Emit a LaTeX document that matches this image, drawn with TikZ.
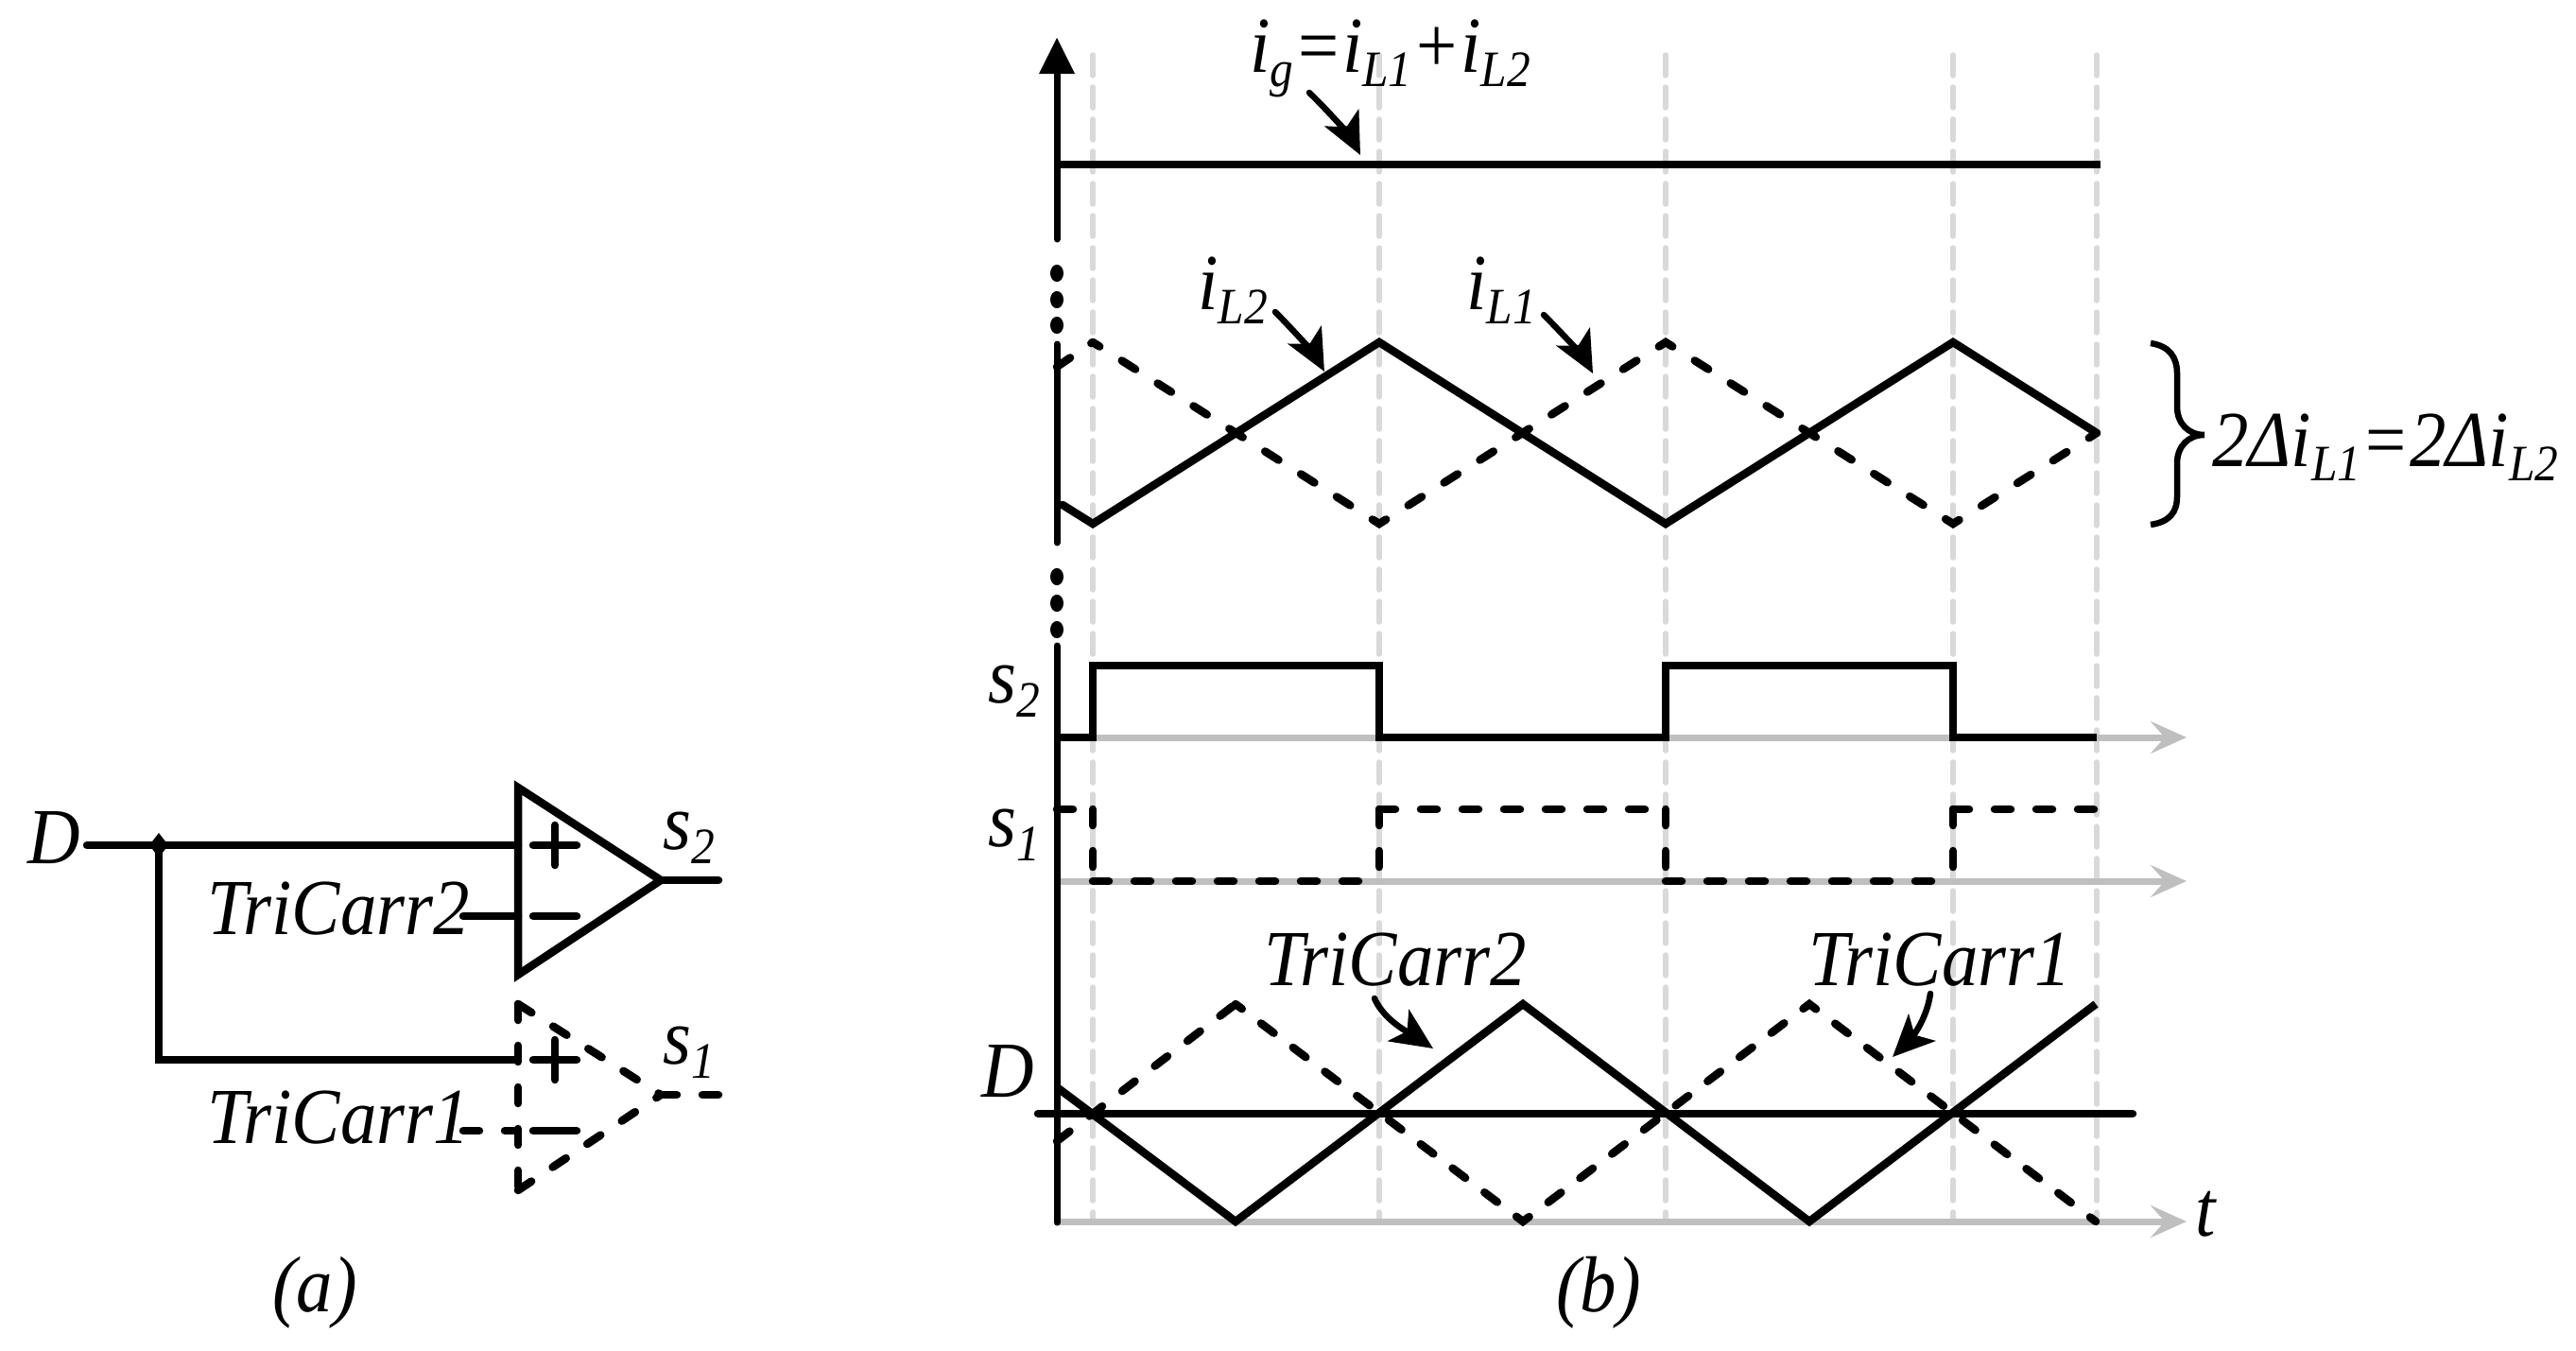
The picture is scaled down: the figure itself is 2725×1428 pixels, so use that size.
\documentclass[tikz,border=0pt]{standalone}
\usepackage{fontspec}
\setmainfont{Liberation Serif}[ItalicFeatures={FakeStretch=0.915}]
\usetikzlibrary{arrows.meta}
\newcommand{\lsub}[1]{\raisebox{-15pt}{\fontsize{54}{55}\selectfont #1}}
\definecolor{guidegray}{HTML}{D9D9D9}
\definecolor{axisgray}{HTML}{BFBFBF}
\tikzset{
  lbl/.style={inner sep=0pt,anchor=base west,font=\fontsize{84}{86}\selectfont\itshape},
  wave/.style={line width=8.5pt,black,line join=miter},
  axisline/.style={line width=7pt,black,line cap=round},
  dashwave/.style={wave,line cap=round,dash pattern=on 17pt off 27pt},
  guide/.style={line width=5.5pt,color=guidegray,line cap=round,dash pattern=on 22pt off 12pt},
  grayaxis/.style={line width=7pt,color=axisgray,-{Stealth[length=38pt,width=34pt,inset=15pt]}},
  callout/.style={line width=6.5pt,black,line cap=round,-{Stealth[length=44pt,width=40pt,inset=11pt]}},
  signline/.style={line width=8.5pt,black,line cap=round},
  dotmark/.style={circle,fill=black,inner sep=0pt,minimum size=14pt,yscale=1.3}
}
\begin{document}
\begin{tikzpicture}[x=1pt,y=-1pt]
\useasboundingbox (0,0) rectangle (2725,1428);
\fill[white] (0,0) rectangle (2725,1428);

% ---------- panel (a) ----------
\coordinate (dstart) at (92,894);
\coordinate (junc) at (168,894);
\coordinate (junc2) at (168,1121);
\coordinate (p2) at (548,894);
\coordinate (p1) at (548,1121);
\coordinate (m2) at (548,969);
\coordinate (m2s) at (490,969);
\coordinate (m1) at (548,1196);
\coordinate (m1s) at (490,1196);
\coordinate (t2a) at (548,833);
\coordinate (t2b) at (548,1031);
\coordinate (t2c) at (699,931);
\coordinate (t1a) at (548,1062);
\coordinate (t1b) at (548,1259);
\coordinate (t1c) at (699,1158);
\coordinate (o2) at (760,931);
\coordinate (o1) at (760,1158);

\draw[signline] (dstart) -- (p2);
\draw[signline,line cap=butt] (junc) -- (junc2) -- (p1);
\fill[black] (158,894) -- (168,881) -- (178,894) -- (168,907) -- cycle;
\draw[signline] (m2s) -- (m2);
\draw[wave] (t2a) -- (t2b) -- (t2c) -- cycle;
\draw[signline] (t2c) -- (o2);
\draw[dashwave] (t1a) -- (t1b);
\draw[dashwave] (t1b) -- (t1c);
\draw[dashwave] (t1a) -- (t1c);
\draw[dashwave] (t1c) -- (o1);
\draw[dashwave] (m1s) -- (m1);
\foreach \cy in {894,1121} {
  \draw[signline] (564,\cy) -- (610,\cy);
  \draw[signline] (587,\cy-21) -- (587,\cy+21);
}
\foreach \cy in {969,1196} { \draw[signline] (564,\cy) -- (610,\cy); }

\node[lbl] (labD) at (29,913) {D};
\node[lbl] (labS2) at (701,898) {s\lsub{2}};
\node[lbl] (labT2) at (219,988) {TriCarr2};
\node[lbl] (labS1) at (701,1125) {s\lsub{1}};
\node[lbl] (labT1) at (219,1209) {TriCarr1};
\node[lbl] (capA) at (288,1387) {(a)};
\node[lbl] (capB) at (1646,1387) {(b)};

% ---------- panel (b) ----------
\foreach \gx in {1156,1459,1762,2066,2218} {
  \draw[guide] (\gx,58) -- (\gx,1293);
}
\draw[grayaxis] (1118,780) -- (2313,780);
\draw[grayaxis] (1118,932) -- (2313,932);
\draw[grayaxis] (1118,1292) -- (2313,1292);

% vertical axis
\fill[black] (1118,40) -- (1137,78) -- (1099,78) -- cycle;
\draw[axisline] (1118,70) -- (1118,253);
\node[dotmark] (d1) at (1118,289) {};
\node[dotmark] (d2) at (1118,317) {};
\node[dotmark] (d3) at (1118,344) {};
\draw[axisline] (1118,364) -- (1118,574);
\node[dotmark] (d4) at (1118,610) {};
\node[dotmark] (d5) at (1118,638) {};
\node[dotmark] (d6) at (1118,666) {};
\draw[axisline] (1118,683) -- (1118,1293);

% currents
\draw[wave] (1118,174) -- (2222,174);
\draw[dashwave] (1118,388) -- (1156,362);
\draw[dashwave,dash pattern=on 17pt off 27.84pt,dash phase=8.5pt] (1156,362) -- (1459,554) -- (1762,362) -- (2066,554) -- (2218,458);
\draw[wave,line cap=round] (1124,534) -- (1156,554) -- (1459,362) -- (1762,554) -- (2066,362) -- (2218,458);

% switching signals
\draw[wave] (1118,780) -- (1156,780) -- (1156,704) -- (1459,704) -- (1459,780) -- (1762,780) -- (1762,704) -- (2066,704) -- (2066,780) -- (2218,780);
\foreach \hx/\hxx/\hy in {1118/1156/856,1156/1459/932,1459/1762/856,1762/2066/932,2066/2218/856} {
  \draw[dashwave] (\hx,\hy) -- (\hxx,\hy);
}
\foreach \vx in {1156,1459,1762,2066} { \draw[dashwave] (\vx,856) -- (\vx,932); }

% carriers
\draw[dashwave,dash pattern=on 17pt off 26.5pt] (1118,1207) -- (1307,1062);
\draw[dashwave,dash pattern=on 17pt off 25.33pt,dash phase=8.5pt] (1307,1062) -- (1611,1292) -- (1914,1062) -- (2217,1292);
\draw[wave] (1118,1150) -- (1307,1292) -- (1611,1062) -- (1914,1292) -- (2217,1062);
\draw[wave,line cap=round] (1098,1178) -- (2256,1178);

% labels panel b
\node[lbl] (labIg) at (1322,76) {i\lsub{g}=i\lsub{L1}+i\lsub{L2}};
\node[lbl] (labIL2) at (1267,327) {i\lsub{L2}};
\node[lbl] (labIL1) at (1551,327) {i\lsub{L1}};
\node[lbl] (labS2b) at (1045,743) {s\lsub{2}};
\node[lbl] (labS1b) at (1045,895) {s\lsub{1}};
\node[lbl] (labDb) at (1038,1160) {D};
\node[lbl] (labT) at (2322,1307) {t};
\node[lbl] (labTb2) at (1337,1042) {TriCarr2};
\node[lbl] (labTb1) at (1913,1042) {TriCarr1};
\node[lbl] (labDelta) at (2340,493) {2Δi\lsub{L1}=2Δi\lsub{L2}};

% callouts
\coordinate (aIgS) at (1385,98);   \coordinate (aIgT) at (1439,164);
\coordinate (aL2S) at (1349,330);  \coordinate (aL2T) at (1401,393);
\coordinate (aL1S) at (1633,333);  \coordinate (aL1T) at (1685,395);
\coordinate (aT2S) at (1454,1056); \coordinate (aT2T) at (1516,1109);
\coordinate (aT1S) at (2042,1051); \coordinate (aT1T) at (2002,1118);
\draw[callout] (aIgS) .. controls (1410,122) and (1432,150) .. (aIgT);
\draw[callout] (aL2S) .. controls (1374,355) and (1394,380) .. (aL2T);
\draw[callout] (aL1S) .. controls (1658,358) and (1678,382) .. (aL1T);
\draw[callout] (aT2S) .. controls (1464,1080) and (1495,1095) .. (aT2T);
\draw[callout] (aT1S) .. controls (2038,1080) and (2020,1100) .. (aT1T);

% brace
\draw[line width=6.5pt,black] (2275,363) .. controls (2295,366) and (2303,378) .. (2303,395)
  -- (2303,430) .. controls (2303,448) and (2315,460) .. (2332,460)
  .. controls (2315,460) and (2303,472) .. (2303,490)
  -- (2303,525) .. controls (2303,542) and (2295,552) .. (2275,555);
\end{tikzpicture}
\end{document}
